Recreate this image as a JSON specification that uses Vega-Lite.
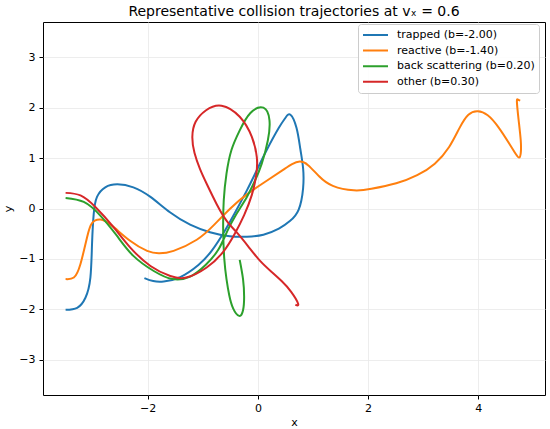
{
  "$schema": "https://vega.github.io/schema/vega-lite/v6.json",
  "width": 502,
  "height": 373,
  "autosize": "none",
  "padding": {"left": 43, "top": 22, "right": 5, "bottom": 34},
  "title": {"text": "Representative collision trajectories at vₓ = 0.6", "fontSize": 14, "fontWeight": "normal", "font": "DejaVu Sans", "color": "black", "offset": 3},
  "config": {
    "view": {"stroke": "black", "strokeWidth": 1},
    "axis": {"domain": false, "grid": true, "gridColor": "#e8e8e8", "gridWidth": 0.8, "tickColor": "black", "tickSize": 4, "labelFont": "DejaVu Sans", "labelFontSize": 11, "labelColor": "black", "titleFont": "DejaVu Sans", "titleFontSize": 11, "titleFontWeight": "normal", "titleColor": "black"}
  },
  "data": {"values": [
    {"label":"trapped (b=-2.00)","i":0,"x":-3.49,"y":-2.01},
    {"label":"trapped (b=-2.00)","i":1,"x":-3.28,"y":-1.97},
    {"label":"trapped (b=-2.00)","i":2,"x":-3.13,"y":-1.77},
    {"label":"trapped (b=-2.00)","i":3,"x":-3.04,"y":-1.37},
    {"label":"trapped (b=-2.00)","i":4,"x":-3.01,"y":-0.70},
    {"label":"trapped (b=-2.00)","i":5,"x":-2.98,"y":-0.11},
    {"label":"trapped (b=-2.00)","i":6,"x":-2.92,"y":0.23},
    {"label":"trapped (b=-2.00)","i":7,"x":-2.77,"y":0.42},
    {"label":"trapped (b=-2.00)","i":8,"x":-2.55,"y":0.48},
    {"label":"trapped (b=-2.00)","i":9,"x":-2.26,"y":0.42},
    {"label":"trapped (b=-2.00)","i":10,"x":-1.95,"y":0.23},
    {"label":"trapped (b=-2.00)","i":11,"x":-1.59,"y":-0.08},
    {"label":"trapped (b=-2.00)","i":12,"x":-1.23,"y":-0.32},
    {"label":"trapped (b=-2.00)","i":13,"x":-0.87,"y":-0.47},
    {"label":"trapped (b=-2.00)","i":14,"x":-0.51,"y":-0.55},
    {"label":"trapped (b=-2.00)","i":15,"x":-0.20,"y":-0.56},
    {"label":"trapped (b=-2.00)","i":16,"x":0.10,"y":-0.52},
    {"label":"trapped (b=-2.00)","i":17,"x":0.38,"y":-0.40},
    {"label":"trapped (b=-2.00)","i":18,"x":0.58,"y":-0.25},
    {"label":"trapped (b=-2.00)","i":19,"x":0.74,"y":-0.02},
    {"label":"trapped (b=-2.00)","i":20,"x":0.82,"y":0.40},
    {"label":"trapped (b=-2.00)","i":21,"x":0.82,"y":0.80},
    {"label":"trapped (b=-2.00)","i":22,"x":0.77,"y":1.18},
    {"label":"trapped (b=-2.00)","i":23,"x":0.70,"y":1.60},
    {"label":"trapped (b=-2.00)","i":24,"x":0.59,"y":1.86},
    {"label":"trapped (b=-2.00)","i":25,"x":0.50,"y":1.80},
    {"label":"trapped (b=-2.00)","i":26,"x":0.38,"y":1.60},
    {"label":"trapped (b=-2.00)","i":27,"x":0.16,"y":1.16},
    {"label":"trapped (b=-2.00)","i":28,"x":-0.02,"y":0.76},
    {"label":"trapped (b=-2.00)","i":29,"x":-0.20,"y":0.36},
    {"label":"trapped (b=-2.00)","i":30,"x":-0.39,"y":-0.03},
    {"label":"trapped (b=-2.00)","i":31,"x":-0.60,"y":-0.44},
    {"label":"trapped (b=-2.00)","i":32,"x":-0.84,"y":-0.84},
    {"label":"trapped (b=-2.00)","i":33,"x":-1.08,"y":-1.12},
    {"label":"trapped (b=-2.00)","i":34,"x":-1.41,"y":-1.36},
    {"label":"trapped (b=-2.00)","i":35,"x":-1.71,"y":-1.45},
    {"label":"trapped (b=-2.00)","i":36,"x":-1.90,"y":-1.44},
    {"label":"trapped (b=-2.00)","i":37,"x":-2.06,"y":-1.38},

    {"label":"reactive (b=-1.40)","i":0,"x":-3.49,"y":-1.40},
    {"label":"reactive (b=-1.40)","i":1,"x":-3.34,"y":-1.37},
    {"label":"reactive (b=-1.40)","i":2,"x":-3.22,"y":-1.10},
    {"label":"reactive (b=-1.40)","i":3,"x":-3.10,"y":-0.57},
    {"label":"reactive (b=-1.40)","i":4,"x":-3.01,"y":-0.29},
    {"label":"reactive (b=-1.40)","i":5,"x":-2.86,"y":-0.22},
    {"label":"reactive (b=-1.40)","i":6,"x":-2.65,"y":-0.34},
    {"label":"reactive (b=-1.40)","i":7,"x":-2.32,"y":-0.64},
    {"label":"reactive (b=-1.40)","i":8,"x":-2.01,"y":-0.84},
    {"label":"reactive (b=-1.40)","i":9,"x":-1.80,"y":-0.89},
    {"label":"reactive (b=-1.40)","i":10,"x":-1.53,"y":-0.84},
    {"label":"reactive (b=-1.40)","i":11,"x":-1.11,"y":-0.62},
    {"label":"reactive (b=-1.40)","i":12,"x":-0.80,"y":-0.33},
    {"label":"reactive (b=-1.40)","i":13,"x":-0.50,"y":0.00},
    {"label":"reactive (b=-1.40)","i":14,"x":-0.20,"y":0.28},
    {"label":"reactive (b=-1.40)","i":15,"x":0.16,"y":0.55},
    {"label":"reactive (b=-1.40)","i":16,"x":0.45,"y":0.76},
    {"label":"reactive (b=-1.40)","i":17,"x":0.62,"y":0.88},
    {"label":"reactive (b=-1.40)","i":18,"x":0.76,"y":0.93},
    {"label":"reactive (b=-1.40)","i":19,"x":0.91,"y":0.86},
    {"label":"reactive (b=-1.40)","i":20,"x":1.11,"y":0.64},
    {"label":"reactive (b=-1.40)","i":21,"x":1.36,"y":0.45},
    {"label":"reactive (b=-1.40)","i":22,"x":1.74,"y":0.36},
    {"label":"reactive (b=-1.40)","i":23,"x":2.06,"y":0.39},
    {"label":"reactive (b=-1.40)","i":24,"x":2.51,"y":0.50},
    {"label":"reactive (b=-1.40)","i":25,"x":2.89,"y":0.66},
    {"label":"reactive (b=-1.40)","i":26,"x":3.21,"y":0.89},
    {"label":"reactive (b=-1.40)","i":27,"x":3.47,"y":1.22},
    {"label":"reactive (b=-1.40)","i":28,"x":3.66,"y":1.60},
    {"label":"reactive (b=-1.40)","i":29,"x":3.82,"y":1.86},
    {"label":"reactive (b=-1.40)","i":30,"x":3.99,"y":1.93},
    {"label":"reactive (b=-1.40)","i":31,"x":4.17,"y":1.85},
    {"label":"reactive (b=-1.40)","i":32,"x":4.36,"y":1.62},
    {"label":"reactive (b=-1.40)","i":33,"x":4.56,"y":1.29},
    {"label":"reactive (b=-1.40)","i":34,"x":4.68,"y":1.08},
    {"label":"reactive (b=-1.40)","i":35,"x":4.74,"y":1.01},
    {"label":"reactive (b=-1.40)","i":36,"x":4.77,"y":1.10},
    {"label":"reactive (b=-1.40)","i":37,"x":4.77,"y":1.35},
    {"label":"reactive (b=-1.40)","i":38,"x":4.73,"y":1.77},
    {"label":"reactive (b=-1.40)","i":39,"x":4.70,"y":2.12},
    {"label":"reactive (b=-1.40)","i":40,"x":4.72,"y":2.16},
    {"label":"reactive (b=-1.40)","i":41,"x":4.76,"y":2.14},

    {"label":"back scattering (b=0.20)","i":0,"x":-3.49,"y":0.21},
    {"label":"back scattering (b=0.20)","i":1,"x":-3.16,"y":0.13},
    {"label":"back scattering (b=0.20)","i":2,"x":-2.86,"y":-0.14},
    {"label":"back scattering (b=0.20)","i":3,"x":-2.56,"y":-0.54},
    {"label":"back scattering (b=0.20)","i":4,"x":-2.26,"y":-0.94},
    {"label":"back scattering (b=0.20)","i":5,"x":-1.89,"y":-1.24},
    {"label":"back scattering (b=0.20)","i":6,"x":-1.55,"y":-1.40},
    {"label":"back scattering (b=0.20)","i":7,"x":-1.23,"y":-1.35},
    {"label":"back scattering (b=0.20)","i":8,"x":-0.95,"y":-1.12},
    {"label":"back scattering (b=0.20)","i":9,"x":-0.72,"y":-0.82},
    {"label":"back scattering (b=0.20)","i":10,"x":-0.56,"y":-0.46},
    {"label":"back scattering (b=0.20)","i":11,"x":-0.39,"y":-0.11},
    {"label":"back scattering (b=0.20)","i":12,"x":-0.20,"y":0.23},
    {"label":"back scattering (b=0.20)","i":13,"x":-0.05,"y":0.56},
    {"label":"back scattering (b=0.20)","i":14,"x":0.07,"y":0.89},
    {"label":"back scattering (b=0.20)","i":15,"x":0.18,"y":1.35},
    {"label":"back scattering (b=0.20)","i":16,"x":0.21,"y":1.75},
    {"label":"back scattering (b=0.20)","i":17,"x":0.10,"y":2.00},
    {"label":"back scattering (b=0.20)","i":18,"x":-0.14,"y":1.89},
    {"label":"back scattering (b=0.20)","i":19,"x":-0.33,"y":1.55},
    {"label":"back scattering (b=0.20)","i":20,"x":-0.48,"y":1.16},
    {"label":"back scattering (b=0.20)","i":21,"x":-0.57,"y":0.69},
    {"label":"back scattering (b=0.20)","i":22,"x":-0.62,"y":0.16},
    {"label":"back scattering (b=0.20)","i":23,"x":-0.63,"y":-0.44},
    {"label":"back scattering (b=0.20)","i":24,"x":-0.61,"y":-1.00},
    {"label":"back scattering (b=0.20)","i":25,"x":-0.57,"y":-1.40},
    {"label":"back scattering (b=0.20)","i":26,"x":-0.52,"y":-1.72},
    {"label":"back scattering (b=0.20)","i":27,"x":-0.45,"y":-1.98},
    {"label":"back scattering (b=0.20)","i":28,"x":-0.34,"y":-2.13},
    {"label":"back scattering (b=0.20)","i":29,"x":-0.27,"y":-2.02},
    {"label":"back scattering (b=0.20)","i":30,"x":-0.25,"y":-1.75},
    {"label":"back scattering (b=0.20)","i":31,"x":-0.27,"y":-1.40},
    {"label":"back scattering (b=0.20)","i":32,"x":-0.33,"y":-1.02},

    {"label":"other (b=0.30)","i":0,"x":-3.49,"y":0.31},
    {"label":"other (b=0.30)","i":1,"x":-3.22,"y":0.26},
    {"label":"other (b=0.30)","i":2,"x":-2.95,"y":0.03},
    {"label":"other (b=0.30)","i":3,"x":-2.62,"y":-0.37},
    {"label":"other (b=0.30)","i":4,"x":-2.32,"y":-0.77},
    {"label":"other (b=0.30)","i":5,"x":-1.95,"y":-1.14},
    {"label":"other (b=0.30)","i":6,"x":-1.59,"y":-1.34},
    {"label":"other (b=0.30)","i":7,"x":-1.30,"y":-1.37},
    {"label":"other (b=0.30)","i":8,"x":-0.93,"y":-1.17},
    {"label":"other (b=0.30)","i":9,"x":-0.63,"y":-0.86},
    {"label":"other (b=0.30)","i":10,"x":-0.42,"y":-0.50},
    {"label":"other (b=0.30)","i":11,"x":-0.25,"y":-0.13},
    {"label":"other (b=0.30)","i":12,"x":-0.11,"y":0.27},
    {"label":"other (b=0.30)","i":13,"x":-0.03,"y":0.67},
    {"label":"other (b=0.30)","i":14,"x":-0.02,"y":1.02},
    {"label":"other (b=0.30)","i":15,"x":-0.11,"y":1.42},
    {"label":"other (b=0.30)","i":16,"x":-0.33,"y":1.82},
    {"label":"other (b=0.30)","i":17,"x":-0.66,"y":2.04},
    {"label":"other (b=0.30)","i":18,"x":-0.94,"y":1.95},
    {"label":"other (b=0.30)","i":19,"x":-1.13,"y":1.72},
    {"label":"other (b=0.30)","i":20,"x":-1.19,"y":1.42},
    {"label":"other (b=0.30)","i":21,"x":-1.15,"y":1.10},
    {"label":"other (b=0.30)","i":22,"x":-1.05,"y":0.78},
    {"label":"other (b=0.30)","i":23,"x":-0.93,"y":0.49},
    {"label":"other (b=0.30)","i":24,"x":-0.75,"y":0.09},
    {"label":"other (b=0.30)","i":25,"x":-0.57,"y":-0.24},
    {"label":"other (b=0.30)","i":26,"x":-0.38,"y":-0.48},
    {"label":"other (b=0.30)","i":27,"x":-0.17,"y":-0.76},
    {"label":"other (b=0.30)","i":28,"x":0.04,"y":-1.04},
    {"label":"other (b=0.30)","i":29,"x":0.25,"y":-1.26},
    {"label":"other (b=0.30)","i":30,"x":0.43,"y":-1.44},
    {"label":"other (b=0.30)","i":31,"x":0.60,"y":-1.65},
    {"label":"other (b=0.30)","i":32,"x":0.73,"y":-1.89},
    {"label":"other (b=0.30)","i":33,"x":0.68,"y":-1.91}
  ]},
  "mark": {"type": "line", "strokeWidth": 2, "interpolate": "natural", "clip": true},
  "encoding": {
    "x": {"field": "x", "type": "quantitative", "scale": {"domain": [-3.9, 5.21], "nice": false, "zero": false}, "axis": {"values": [-2, 0, 2, 4], "title": "x", "labelPadding": 3, "titlePadding": 3}},
    "y": {"field": "y", "type": "quantitative", "scale": {"domain": [-3.7, 3.7], "nice": false, "zero": false}, "axis": {"values": [-3, -2, -1, 0, 1, 2, 3], "title": "y", "labelPadding": 4, "titlePadding": 5}},
    "order": {"field": "i", "type": "quantitative"},
    "color": {"field": "label", "type": "nominal",
      "scale": {"domain": ["trapped (b=-2.00)", "reactive (b=-1.40)", "back scattering (b=0.20)", "other (b=0.30)"], "range": ["#1f77b4", "#ff7f0e", "#2ca02c", "#d62728"]},
      "legend": {"title": null, "orient": "none", "legendX": 315, "legendY": 2, "padding": 4, "strokeColor": "#cccccc", "fillColor": "rgba(255,255,255,0.85)", "cornerRadius": 3, "symbolType": "stroke", "symbolStrokeWidth": 2, "symbolSize": 625, "clipHeight": 14, "labelFont": "DejaVu Sans", "labelFontSize": 11, "labelColor": "black", "labelOffset": 8, "rowPadding": 1.6}
    }
  }
}
